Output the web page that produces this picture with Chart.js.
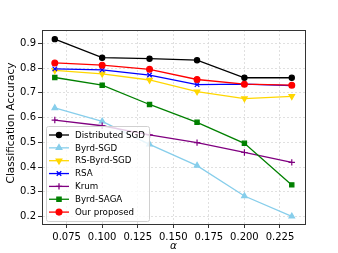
<!DOCTYPE html>
<html><head><meta charset="utf-8">
<script src="https://cdn.jsdelivr.net/npm/chart.js@4"></script>
<style>html,body{margin:0;padding:0;background:#fff}#wrap{width:338px;height:253px}</style>
</head><body><div id="wrap"><canvas id="c" width="338" height="253"></canvas></div>
<script>
const alphas = [0.0667, 0.1, 0.1333, 0.1667, 0.2, 0.2333];
const distributedSGD = [0.917, 0.842, 0.838, 0.832, 0.761, 0.761];
const byrdSGD = [0.639, 0.585, 0.492, 0.406, 0.283, 0.201];
const rsByrdSGD = [0.791, 0.777, 0.752, 0.705, 0.677, 0.686];
const rsa = [0.797, 0.793, 0.772, 0.733, 0.735, 0.729];
const krum = [0.590, 0.567, 0.530, 0.499, 0.459, 0.419];
const byrdSAGA = [0.762, 0.731, 0.653, 0.581, 0.496, 0.328];
const ourProposed = [0.821, 0.812, 0.795, 0.754, 0.735, 0.731];
const seriesNames = ["Distributed SGD","Byrd-SGD","RS-Byrd-SGD","RSA","Krum","Byrd-SAGA","Our proposed"];
const xTicks = [0.075, 0.1, 0.125, 0.15, 0.175, 0.2, 0.225];
const yTicks = [0.2, 0.3, 0.4, 0.5, 0.6, 0.7, 0.8, 0.9];

const seriesValues = [distributedSGD, byrdSGD, rsByrdSGD, rsa, krum, byrdSAGA, ourProposed];
const styles = [
  {c:'#000000', p:'circle', r:2.6, rot:0},
  {c:'#87CEEB', p:'triangle', r:3.2, rot:0},
  {c:'#FFD700', p:'triangle', r:3.2, rot:180},
  {c:'#0000FF', p:'crossRot', r:3.2, rot:0},
  {c:'#800080', p:'cross', r:3.2, rot:0},
  {c:'#008000', p:'rect', r:3, rot:0},
  {c:'#FF0000', p:'circle', r:2.9, rot:0}
];
const FONT = "'DejaVu Sans', sans-serif";

const datasets = seriesNames.map((name, i) => ({
  label: name,
  data: alphas.map((a, k) => ({x: a, y: seriesValues[i][k]})),
  borderColor: styles[i].c,
  backgroundColor: styles[i].c,
  pointBackgroundColor: styles[i].c,
  pointBorderColor: styles[i].c,
  pointStyle: styles[i].p,
  pointRadius: styles[i].r,
  pointRotation: styles[i].rot,
  pointBorderWidth: 1.2,
  borderWidth: 1.3,
  tension: 0,
  order: 6 - i
}));

function drawMarker(ctx, st, x, y) {
  Chart.helpers.drawPoint(ctx, {pointStyle: st.p, radius: st.r, rotation: st.rot, borderWidth: 1.2}, x, y);
}

const extras = {
  id: 'extras',
  afterDatasetsDraw(chart) {
    const ctx = chart.ctx, a = chart.chartArea;
    ctx.save();
    ctx.strokeStyle = '#333';
    ctx.lineWidth = 1;
    ctx.strokeRect(Math.round(a.left) + 0.5, Math.round(a.top) + 0.5, Math.round(a.right - a.left), Math.round(a.bottom - a.top));
    // legend
    const bx = 46.5, by = 126.5, bw = 103, bh = 95;
    ctx.fillStyle = 'rgba(255,255,255,0.8)';
    ctx.strokeStyle = '#d0d0d0';
    ctx.lineWidth = 1;
    ctx.beginPath();
    if (ctx.roundRect) ctx.roundRect(bx, by, bw, bh, 2); else ctx.rect(bx, by, bw, bh);
    ctx.fill(); ctx.stroke();
    ctx.font = "8.7px " + FONT;
    ctx.textBaseline = 'middle';
    ctx.textAlign = 'left';
    seriesNames.forEach((name, i) => {
      const y = 135 + i * 12.85;
      const st = styles[i];
      ctx.strokeStyle = st.c; ctx.fillStyle = st.c; ctx.lineWidth = 1.3;
      ctx.beginPath(); ctx.moveTo(49, y); ctx.lineTo(69, y); ctx.stroke();
      drawMarker(ctx, st, 59, y);
      ctx.fillStyle = '#000';
      ctx.fillText(name, 75, y + 0.5);
    });
    ctx.restore();
  },
  afterDraw(chart) {
    const ctx = chart.ctx, a = chart.chartArea;
    ctx.save();
    ctx.fillStyle = '#000';
    ctx.textAlign = 'center';
    ctx.textBaseline = 'middle';
    ctx.font = "10.5px " + FONT;
    ctx.translate(11, (a.top + a.bottom) / 2 - 4);
    ctx.rotate(-Math.PI / 2);
    ctx.fillText('Classification Accuracy', 0, 0);
    ctx.restore();
    ctx.save();
    ctx.fillStyle = '#000';
    ctx.textAlign = 'center';
    ctx.textBaseline = 'middle';
    ctx.font = "italic 10.5px " + FONT;
    ctx.fillText('α', (a.left + a.right) / 2, 246);
    ctx.restore();
  }
};

new Chart(document.getElementById('c'), {
  type: 'line',
  data: {datasets},
  plugins: [extras],
  options: {
    responsive: false,
    animation: false,
    devicePixelRatio: 1,
    layout: {padding: {left: 0, top: 30, right: 33, bottom: 0}},
    plugins: {legend: {display: false}, tooltip: {enabled: false}},
    scales: {
      x: {
        type: 'linear', min: 0.0577, max: 0.2426,
        afterBuildTicks: s => { s.ticks = xTicks.map(v => ({value: v})); },
        afterFit: s => { s.height = 29; },
        ticks: {font: {family: FONT, size: 10}, color: '#000', padding: 3, maxRotation: 0, autoSkip: false,
          callback: v => v.toFixed(3)},
        grid: {color: '#d8d8d8', lineWidth: 0.8, tickLength: 4, tickColor: '#333', tickWidth: 1, tickBorderDash: [0,0]},
        border: {display: true, color: '#333', dash: [2, 2]}
      },
      y: {
        type: 'linear', min: 0.17, max: 0.954,
        afterBuildTicks: s => { s.ticks = yTicks.map(v => ({value: v})); },
        afterFit: s => { s.width = 42; },
        ticks: {font: {family: FONT, size: 10}, color: '#000', padding: 2, autoSkip: false,
          callback: v => v.toFixed(1)},
        grid: {color: '#d8d8d8', lineWidth: 0.8, tickLength: 4, tickColor: '#333', tickWidth: 1, tickBorderDash: [0,0]},
        border: {display: true, color: '#333', dash: [2, 2]}
      }
    }
  }
});
</script></body></html>
